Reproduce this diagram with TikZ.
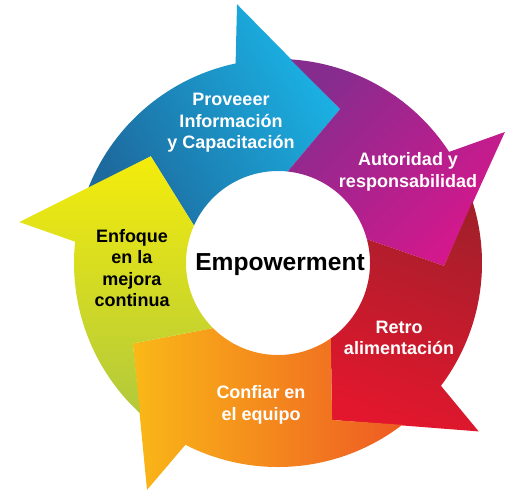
\documentclass[tikz,border=0pt]{standalone}
\usepackage{fontspec}
\setmainfont{Liberation Sans}
\definecolor{blueA}{HTML}{1D6A9E}
\definecolor{blueB}{HTML}{1BB4E6}
\definecolor{purpleA}{HTML}{872C8F}
\definecolor{purpleB}{HTML}{D6178C}
\definecolor{redA}{HTML}{A51F2B}
\definecolor{redB}{HTML}{E2172D}
\definecolor{orangeA}{HTML}{FAB817}
\definecolor{orangeB}{HTML}{EE5A23}
\definecolor{yellowA}{HTML}{B2C93C}
\definecolor{yellowB}{HTML}{F4EC0B}

\begin{document}
\begin{tikzpicture}[x=0.5pt, y=0.5pt,
    label/.style={align=center, text=white, font=\bfseries\fontsize{9}{10.8}\selectfont}]
   \useasboundingbox (-278,-231) rectangle (228,263);

   % ring pieces: head of previous piece, own head, colours, shading angle
   \foreach \prev/\ang/\ca/\cb/\sa in {171/99/blueA/blueB/-60,
                                      99/30/purpleA/purpleB/-135,
                                      30/-40/redA/redB/160,
                                      -40/-120/orangeA/orangeB/-90,
                                      -120/-189/yellowA/yellowB/0}
     \shade[bottom color=\ca, top color=\cb, shading angle=\sa]
       ({\prev-31}:166) -- ({\prev-12.5}:204)
       arc[start angle=\prev-12.5, end angle=\ang+3, radius=204]
       -- (\ang:262) -- ({\ang-31}:166) -- ({\ang-15}:92)
       arc[start angle=\ang-15, end angle=\prev-15, radius=92] -- cycle;

   \node (core) at (2,-2) {\bfseries\fontsize{12.3}{14}\selectfont Empowerment};
   \node[label] (supply) at (-47,140) {Proveeer\\Información\\y Capacitación};
   \node[label] (authority) at (130,91) {Autoridad y\\responsabilidad};
   \node[label] (feedback) at (121,-75) {Retro\\alimentación};
   \node[label] (trust) at (-17,-142) {Confiar en\\el equipo};
   \node[label, text=black] (focus) at (-146,-5) {Enfoque\\en la\\mejora\\continua};
\end{tikzpicture}
\end{document}
